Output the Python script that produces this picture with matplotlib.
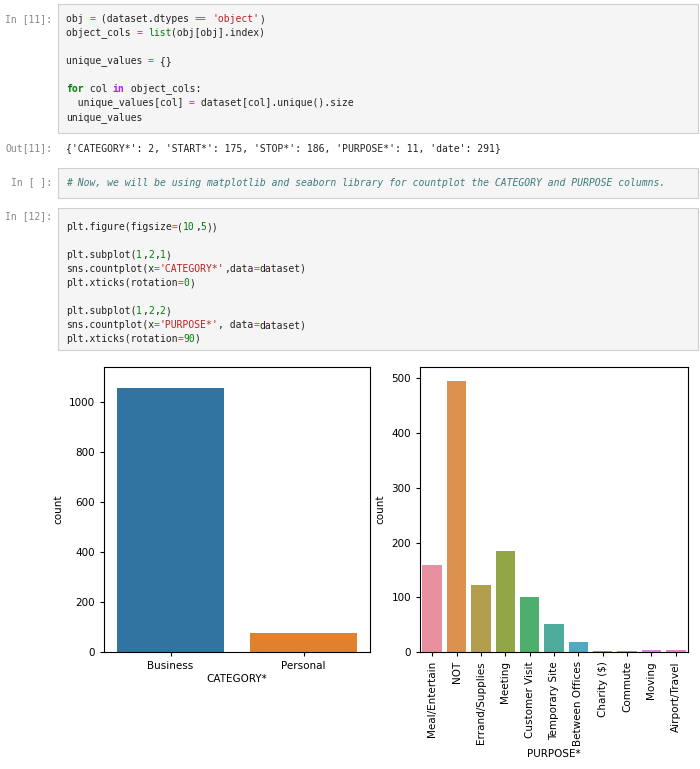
import matplotlib
matplotlib.use("Agg")
import matplotlib.pyplot as plt
from matplotlib.patches import Rectangle

category_labels = ["Business", "Personal"]
category_counts = [1058, 77]
purpose_labels = ["Meal/Entertain", "NOT", "Errand/Supplies", "Meeting", "Customer Visit",
                  "Temporary Site", "Between Offices", "Charity ($)", "Commute", "Moving", "Airport/Travel"]
purpose_counts = [159, 496, 122, 184, 101, 51, 19, 1, 1, 4, 4]
purpose_colors = ["#e8909f", "#dd914f", "#b39e4f", "#90a647", "#4caf6b", "#4eab9b",
                  "#4fa9c0", "#6fa0dc", "#a693e0", "#d884e2", "#e484c7"]

W, H = 700, 769
fig = plt.figure(figsize=(7, 7.69), dpi=100)

def px(x, y):
    return x / W, 1 - y / H

K, S, N, C, O, T = "#008000", "#ba2121", "#008000", "#3d7b7b", "#aa22ff", "#222222"
CW = 0.602 * 7 * 100 / 72

def code_line(x, y, segs, **kw):
    cx = x
    for txt, col, *st in segs:
        fig.text(*px(cx, y), txt, family="DejaVu Sans Mono", fontsize=7, color=col,
                 va="center", ha="left",
                 fontweight="bold" if "b" in st else "normal",
                 fontstyle="italic" if "i" in st else "normal")
        cx += len(txt) * CW

def box(y0, y1):
    fig.add_artist(Rectangle(px(58, y1), 640 / W, (y1 - y0) / H, transform=fig.transFigure,
                             facecolor="#f5f5f5", edgecolor="#cfcfcf", lw=0.8))

def prompt(y, txt):
    fig.text(*px(52, y), txt, family="DejaVu Sans Mono", fontsize=7, color="#888888",
             ha="right", va="center")

box(4, 133)
prompt(19, "In [11]:")
x0 = 66
code_line(x0, 19, [("obj ", T), ("=", O), (" (dataset.dtypes ", T), ("==", O), (" ", T), ("'object'", S), (")", T)])
code_line(x0, 33, [("object_cols ", T), ("=", O), (" ", T), ("list", K), ("(obj[obj].index)", T)])
code_line(x0, 61, [("unique_values ", T), ("=", O), (" {}", T)])
code_line(x0, 89, [("for", K, "b"), (" col ", T), ("in", O, "b"), (" object_cols:", T)])
code_line(x0, 103, [("  unique_values[col] ", T), ("=", O), (" dataset[col].unique().size", T)])
code_line(x0, 118, [("unique_values", T)])

prompt(148, "Out[11]:")
code_line(66, 148, [("{'CATEGORY*': 2, 'START*': 175, 'STOP*': 186, 'PURPOSE*': 11, 'date': 291}", T)])

box(168, 198)
prompt(182, "In [ ]:")
code_line(66, 183, [("# Now, we will be using matplotlib and seaborn library for countplot the CATEGORY and PURPOSE columns.", C, "i")])

box(208, 350)
prompt(216, "In [12]:")
code_line(x0, 227, [("plt.figure(figsize", T), ("=", O), ("(", T), ("10", N), (",", T), ("5", N), ("))", T)])
code_line(x0, 255, [("plt.subplot(", T), ("1", N), (",", T), ("2", N), (",", T), ("1", N), (")", T)])
code_line(x0, 269, [("sns.countplot(x", T), ("=", O), ("'CATEGORY*'", S), (",data", T), ("=", O), ("dataset)", T)])
code_line(x0, 283, [("plt.xticks(rotation", T), ("=", O), ("0", N), (")", T)])
code_line(x0, 311, [("plt.subplot(", T), ("1", N), (",", T), ("2", N), (",", T), ("2", N), (")", T)])
code_line(x0, 325, [("sns.countplot(x", T), ("=", O), ("'PURPOSE*'", S), (", data", T), ("=", O), ("dataset)", T)])
code_line(x0, 339, [("plt.xticks(rotation", T), ("=", O), ("90", N), (")", T)])
code_line(x0, 353 - 14 + 14, [("plt.show()", T)]) if False else None
code_line(x0, 339 + 0, [])
# last line
code_line(x0, 339, [])

def axes_px(x0, y0, x1, y1):
    l, t = x0 / W, 1 - y0 / H
    return fig.add_axes([l, 1 - y1 / H, (x1 - x0) / W, (y1 - y0) / H])

ax1 = axes_px(104, 367, 370, 652)
ax1.bar(range(len(category_labels)), category_counts, width=0.8,
        color=["#3274a1", "#e1812c"])
ax1.set_xticks(range(len(category_labels)), category_labels)
ax1.set_xlim(-0.5, 1.5)
ax1.set_ylim(0, 1058 * 1.05 + 30)
ax1.set_yticks([0, 200, 400, 600, 800, 1000])
ax1.set_xlabel("CATEGORY*", fontsize=7.5, labelpad=2)
ax1.set_ylabel("count", fontsize=7.5)

ax2 = axes_px(420, 367, 688, 652)
ax2.bar(range(len(purpose_labels)), purpose_counts, width=0.8, color=purpose_colors)
ax2.set_xticks(range(len(purpose_labels)), purpose_labels, rotation=90)
ax2.set_xlim(-0.5, len(purpose_labels) - 0.5)
ax2.set_ylim(0, 521)
ax2.set_yticks([0, 100, 200, 300, 400, 500])
ax2.set_xlabel("PURPOSE*", fontsize=7.5, labelpad=2)
ax2.set_ylabel("count", fontsize=7.5)

for ax in (ax1, ax2):
    ax.tick_params(labelsize=7.5, length=3, width=0.8)
    for s in ax.spines.values():
        s.set_linewidth(0.8)

fig.savefig("out.png", dpi=100)
